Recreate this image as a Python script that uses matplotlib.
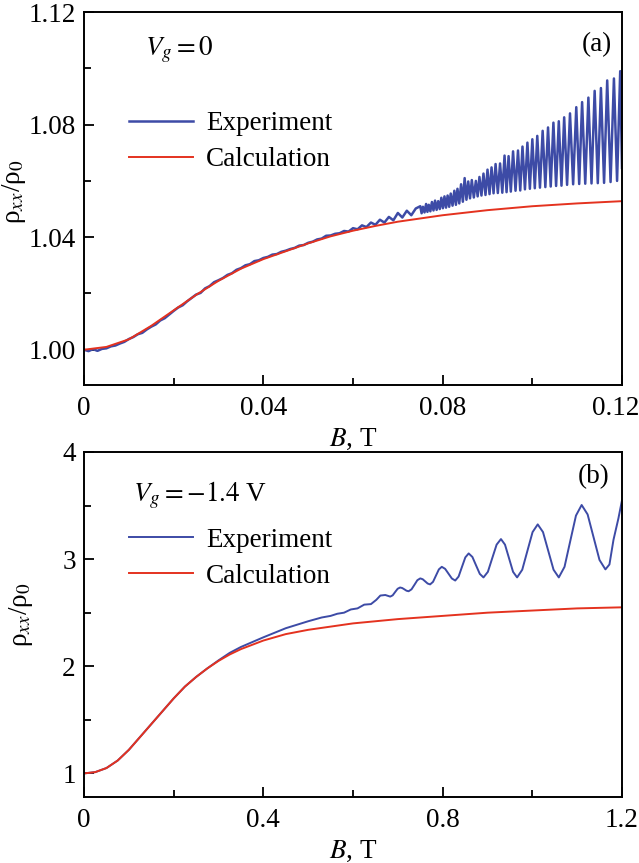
import matplotlib
matplotlib.use("Agg")
import matplotlib.pyplot as plt
from matplotlib.transforms import ScaledTranslation
import numpy as np

plt.rcParams['font.family'] = ['Liberation Serif', 'DejaVu Serif']
plt.rcParams['mathtext.fontset'] = 'stix'

BLUE = '#3d4ba6'
RED = '#e4321f'
FS = 19.5

# ---- panel (a): Vg = 0 ----
calc_a_B = [0, 0.005, 0.01, 0.015, 0.02, 0.025, 0.03, 0.035, 0.04, 0.045, 0.05,
            0.055, 0.06, 0.065, 0.07, 0.08, 0.09, 0.10, 0.11, 0.12]
calc_a_r = [1.000, 1.001, 1.0037, 1.0085, 1.0140, 1.0195, 1.0245, 1.0288, 1.0322,
            1.0350, 1.0378, 1.0403, 1.0423, 1.0440, 1.0455, 1.0478, 1.0496, 1.0510,
            1.0520, 1.0528]

# low-field part of the measured trace (small noise around the calculation)
exp_a_low_B = [0.000, 0.001, 0.002, 0.003, 0.004, 0.005, 0.006, 0.007, 0.008, 0.009,
               0.010, 0.011, 0.012, 0.013, 0.014, 0.015, 0.016, 0.017, 0.018, 0.019,
               0.020, 0.021, 0.022, 0.023, 0.024, 0.025, 0.026, 0.027, 0.028, 0.029,
               0.030, 0.031, 0.032, 0.033, 0.034, 0.035, 0.036, 0.037, 0.038, 0.039,
               0.040, 0.041, 0.042, 0.043, 0.044, 0.045, 0.046, 0.047, 0.048, 0.049,
               0.050, 0.051, 0.052, 0.053, 0.054, 0.055, 0.056, 0.057, 0.058, 0.059,
               0.060, 0.061, 0.062, 0.063, 0.064, 0.065, 0.066, 0.067, 0.068, 0.069,
               0.070, 0.071, 0.072, 0.073, 0.074]
exp_a_low_r = [1.0000, 0.9995, 1.0002, 0.9996, 1.0003, 1.0005, 1.0012, 1.0015, 1.0022, 1.0028,
               1.0038, 1.0045, 1.0055, 1.0060, 1.0072, 1.0082, 1.0090, 1.0104, 1.0112, 1.0125,
               1.0138, 1.0150, 1.0158, 1.0172, 1.0184, 1.0196, 1.0202, 1.0218, 1.0226, 1.0240,
               1.0247, 1.0255, 1.0266, 1.0272, 1.0284, 1.0290, 1.0300, 1.0304, 1.0315, 1.0318,
               1.0326, 1.0330, 1.0338, 1.0340, 1.0348, 1.0352, 1.0358, 1.0362, 1.0370, 1.0372,
               1.0380, 1.0384, 1.0392, 1.0395, 1.0405, 1.0406, 1.0412, 1.0414, 1.0422, 1.0420,
               1.0432, 1.0428, 1.0442, 1.0436, 1.0452, 1.0444, 1.0462, 1.0452, 1.0472, 1.0460,
               1.0486, 1.0470, 1.0494, 1.0478, 1.0502]

peak_a_B = [0.0750, 0.0756, 0.0763, 0.0769, 0.0776, 0.0783, 0.0790, 0.0797, 0.0804, 0.0811,
            0.0818, 0.0826, 0.0833, 0.0841, 0.0849, 0.0857, 0.0865, 0.0874, 0.0882, 0.0891,
            0.0900, 0.0909, 0.0918, 0.0928, 0.0938, 0.0947, 0.0957, 0.0968, 0.0978, 0.0989,
            0.1000, 0.1011, 0.1023, 0.1035, 0.1047, 0.1059, 0.1071, 0.1084, 0.1098, 0.1111,
            0.1125, 0.1139, 0.1153, 0.1167, 0.1182, 0.1196]
peak_a_r = [1.0510, 1.0508, 1.0518, 1.0515, 1.0525, 1.0530, 1.0528, 1.0540, 1.0545, 1.0548,
            1.0555, 1.0565, 1.0572, 1.0588, 1.0610, 1.0598, 1.0603, 1.0600, 1.0614, 1.0626,
            1.0640, 1.0648, 1.0660, 1.0662, 1.0690, 1.0688, 1.0705, 1.0708, 1.0722, 1.0736,
            1.0748, 1.0760, 1.0778, 1.0790, 1.0807, 1.0812, 1.0826, 1.0840, 1.0862, 1.0880,
            1.0896, 1.0920, 1.0930, 1.0957, 1.0964, 1.0990]
trough_a_B = [0.0753, 0.07595, 0.0766, 0.07725, 0.07795, 0.07865, 0.07935, 0.08005, 0.08075,
              0.08145, 0.0822, 0.08295, 0.0837, 0.0845, 0.0853, 0.0861, 0.08695, 0.0878,
              0.08865, 0.08955, 0.09045, 0.09135, 0.0923, 0.0933, 0.09425, 0.0952, 0.09625,
              0.0973, 0.09835, 0.09945, 0.10055, 0.1017, 0.1029, 0.1041, 0.1053, 0.1065,
              0.10775, 0.1091, 0.11045, 0.1118, 0.1132, 0.1146, 0.1160, 0.11745, 0.1189, 0.1200]
trough_a_r = [1.0485, 1.0488, 1.0490, 1.0492, 1.0495, 1.0497, 1.0500, 1.0503, 1.0505,
              1.0508, 1.0512, 1.0515, 1.0520, 1.0526, 1.0533, 1.0538, 1.0541, 1.0545,
              1.0548, 1.0550, 1.0553, 1.0556, 1.0557, 1.0558, 1.0560, 1.0562, 1.0565,
              1.0566, 1.0570, 1.0572, 1.0574, 1.0576, 1.0578, 1.0580, 1.0582, 1.0583,
              1.0586, 1.0588, 1.0589, 1.0590, 1.0591, 1.0592, 1.0593, 1.0596, 1.0600, 1.0646]

# ---- panel (b): Vg = -1.4 V ----
calc_b_B = [0, 0.025, 0.05, 0.075, 0.1, 0.125, 0.15, 0.175, 0.2, 0.225, 0.25, 0.275, 0.3,
            0.325, 0.35, 0.375, 0.4, 0.45, 0.5, 0.55, 0.6, 0.65, 0.7, 0.75, 0.8, 0.9,
            1.0, 1.1, 1.2]
calc_b_r = [1.00, 1.012, 1.05, 1.12, 1.22, 1.34, 1.46, 1.58, 1.70, 1.81, 1.90, 1.98, 2.05,
            2.11, 2.16, 2.20, 2.24, 2.30, 2.34, 2.37, 2.40, 2.42, 2.44, 2.455, 2.47, 2.50,
            2.52, 2.54, 2.55]

exp_b_B = [0, 0.025, 0.05, 0.075, 0.1, 0.125, 0.15, 0.175, 0.2, 0.225, 0.25, 0.275, 0.3,
           0.325, 0.35, 0.375, 0.40, 0.45, 0.50, 0.53, 0.55, 0.565,
           0.58, 0.595, 0.61, 0.625, 0.64, 0.652, 0.661, 0.672, 0.683,
           0.6885, 0.694, 0.6995, 0.705, 0.7098, 0.7145, 0.7193, 0.724,
           0.7305, 0.737, 0.7435, 0.750, 0.7555, 0.761, 0.7665, 0.772,
           0.7785, 0.785, 0.7915, 0.798, 0.8055, 0.813, 0.8205, 0.828,
           0.8355, 0.843, 0.8505, 0.858, 0.8663, 0.8745, 0.8828, 0.891,
           0.9008, 0.9105, 0.9203, 0.930, 0.939, 0.948, 0.957, 0.966,
           0.9775, 0.989, 1.0005, 1.012, 1.0238, 1.0355, 1.0473, 1.059,
           1.0718, 1.0845, 1.0973, 1.110, 1.1233, 1.1365, 1.1498, 1.163,
           1.172, 1.181, 1.192, 1.200]
exp_b_r = [1.00, 1.012, 1.05, 1.12, 1.22, 1.34, 1.46, 1.58, 1.70, 1.81, 1.90, 1.98, 2.055,
           2.125, 2.18, 2.225, 2.27, 2.355, 2.42, 2.455, 2.47, 2.49,
           2.50, 2.53, 2.54, 2.575, 2.58, 2.62, 2.66, 2.665, 2.65,
           2.662, 2.693, 2.723, 2.735, 2.730, 2.718, 2.705, 2.700,
           2.718, 2.760, 2.803, 2.820, 2.812, 2.792, 2.772, 2.764,
           2.788, 2.846, 2.904, 2.928, 2.909, 2.864, 2.819, 2.800,
           2.837, 2.927, 3.016, 3.053, 3.020, 2.941, 2.862, 2.829,
           2.881, 3.008, 3.135, 3.187, 3.135, 3.008, 2.881, 2.829,
           2.901, 3.077, 3.252, 3.324, 3.252, 3.077, 2.901, 2.829,
           2.928, 3.167, 3.406, 3.505, 3.417, 3.205, 2.992, 2.904,
           2.95, 3.18, 3.38, 3.55]

xticks_a = [0, 0.04, 0.08, 0.12]
xticklabels_a = ['0', '0.04', '0.08', '0.12']
yticks_a = [1.00, 1.04, 1.08, 1.12]
yticklabels_a = ['1.00', '1.04', '1.08', '1.12']
xticks_b = [0, 0.4, 0.8, 1.2]
xticklabels_b = ['0', '0.4', '0.8', '1.2']
yticks_b = [1, 2, 3, 4]
yticklabels_b = ['1', '2', '3', '4']


def style_axis(ax):
    for s in ax.spines.values():
        s.set_linewidth(1.4)
    ax.tick_params(which='both', direction='in', top=False, right=False,
                   labelsize=FS, width=1.3)
    ax.tick_params(axis='x', pad=8)
    ax.tick_params(axis='y', pad=6)
    ax.tick_params(which='major', length=7.2)
    ax.tick_params(which='minor', length=4.8)


fig = plt.figure(figsize=(6.39, 8.63), dpi=100)
ax1 = fig.add_axes([0.1315, 0.554, 0.8419, 0.432])
ax2 = fig.add_axes([0.1315, 0.0765, 0.8419, 0.3998])

# merge maxima/minima in B order for the oscillating part
osc_B = np.array(peak_a_B + trough_a_B)
osc_r = np.array(peak_a_r + trough_a_r)
order = np.argsort(osc_B)
exp_a_B = np.concatenate([exp_a_low_B, osc_B[order]])
exp_a_r = np.concatenate([exp_a_low_r, osc_r[order]])

ax1.plot(exp_a_B, exp_a_r, color=BLUE, lw=1.8, label='Experiment')
ax1.plot(calc_a_B, calc_a_r, color=RED, lw=1.4, label='Calculation')
ax1.set_xlim(0, 0.12)
ax1.set_ylim(0.9875, 1.12)
ax1.set_xticks(xticks_a)
ax1.set_xticklabels(xticklabels_a)
ax1.set_xticks([0.02, 0.06, 0.10], minor=True)
ax1.set_yticks(yticks_a)
ax1.set_yticklabels(yticklabels_a)
ax1.set_yticks([1.02, 1.06, 1.10], minor=True)
style_axis(ax1)
ax1.set_xlabel(r'$B$, T', fontsize=FS, labelpad=4)
ax1.set_ylabel(r'ρ$_{xx}$/ρ$_0$', fontsize=FS)
ax1.yaxis.set_label_coords(-0.104, 0.517)
ax1.text(0.113, 0.899, r'$V_g = 0$', transform=ax1.transAxes, fontsize=FS,
         ha='left', va='center')
ax1.text(0.953, 0.912, '(a)', transform=ax1.transAxes, fontsize=FS,
         ha='center', va='center')
ax1.legend(loc='upper left', bbox_to_anchor=(0.083, 0.734), frameon=False,
           fontsize=FS, handlelength=2.37, handletextpad=0.48, labelspacing=0.4,
           borderpad=0, borderaxespad=0)

# the last label sits at the figure edge, as in the original
last = ax1.get_xticklabels()[-1]
last.set_horizontalalignment('right')
last.set_transform(last.get_transform() + ScaledTranslation(0.17, 0, fig.dpi_scale_trans))

ax2.plot(exp_b_B, exp_b_r, color=BLUE, lw=1.4, label='Experiment')
ax2.plot(calc_b_B, calc_b_r, color=RED, lw=1.4, label='Calculation')
ax2.set_xlim(0, 1.2)
ax2.set_ylim(0.78, 4)
ax2.set_xticks(xticks_b)
ax2.set_xticklabels(xticklabels_b)
ax2.set_xticks([0.2, 0.6, 1.0], minor=True)
ax2.set_yticks(yticks_b)
ax2.set_yticklabels(yticklabels_b)
ax2.set_yticks([1.5, 2.5, 3.5], minor=True)
style_axis(ax2)
ax2.set_xlabel(r'$B$, T', fontsize=FS, labelpad=4)
ax2.set_ylabel(r'ρ$_{xx}$/ρ$_0$', fontsize=FS)
ax2.yaxis.set_label_coords(-0.091, 0.527)
ax2.text(0.091, 0.875, r'$V_g = -1.4$ V', transform=ax2.transAxes, fontsize=FS,
         ha='left', va='center')
ax2.text(0.948, 0.928, '(b)', transform=ax2.transAxes, fontsize=FS,
         ha='center', va='center')
ax2.legend(loc='upper left', bbox_to_anchor=(0.083, 0.78), frameon=False,
           fontsize=FS, handlelength=2.37, handletextpad=0.48, labelspacing=0.4,
           borderpad=0, borderaxespad=0)

fig.savefig('out.png', dpi=100)
